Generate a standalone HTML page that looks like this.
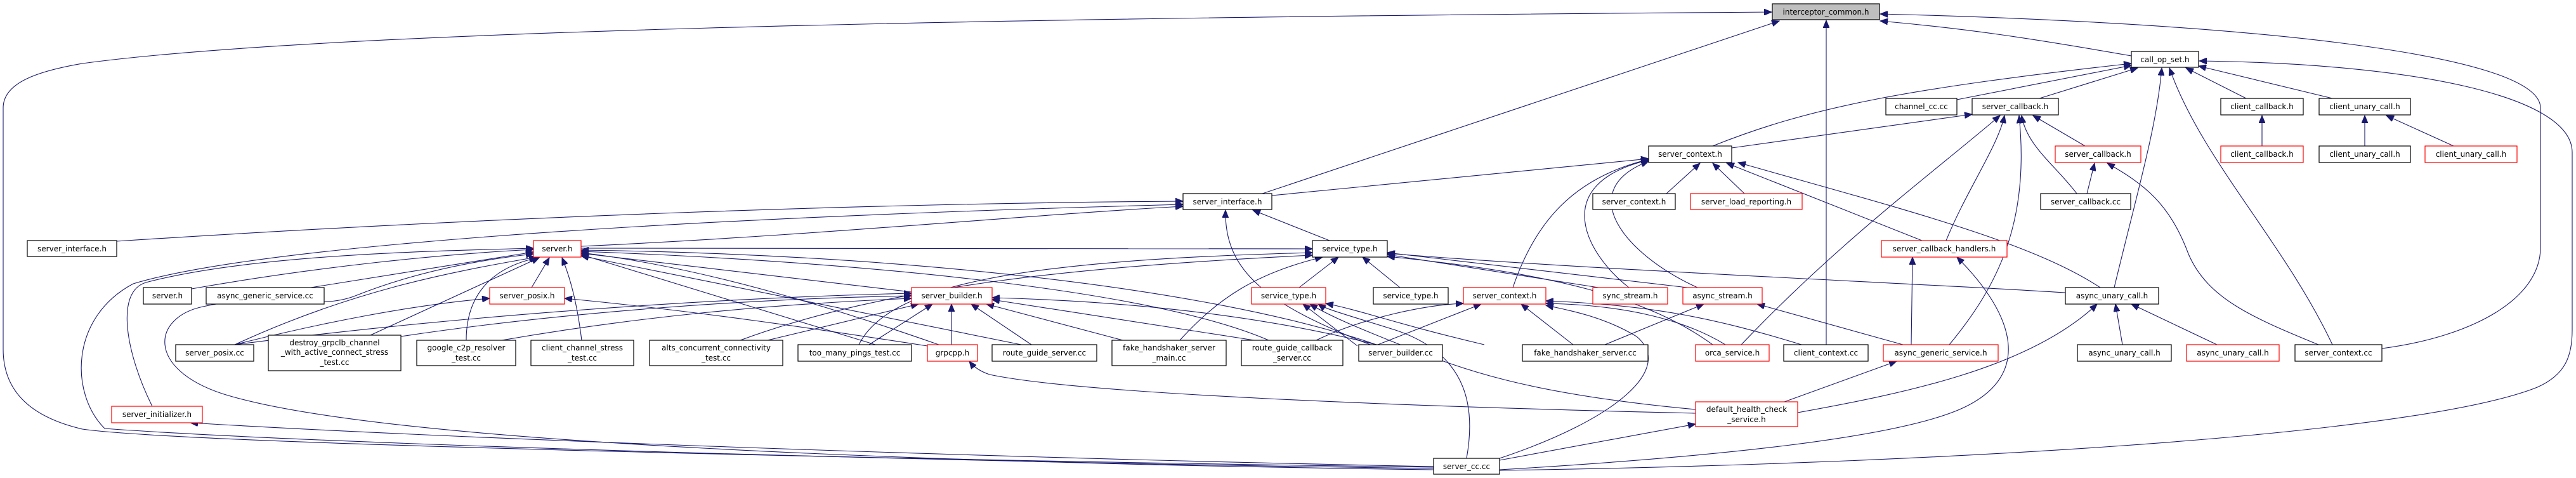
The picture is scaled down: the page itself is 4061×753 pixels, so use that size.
<!DOCTYPE html>
<html><head><meta charset="utf-8"><style>
html,body{margin:0;padding:0;background:#fff;width:4061px;height:753px;overflow:hidden}
svg{display:block}
text{font-family:"DejaVu Sans","Liberation Sans",sans-serif;font-size:12px;fill:#000;text-anchor:middle}
.n rect{fill:#fff;stroke:#000;stroke-width:1.2}
.r rect{fill:#fff;stroke:#f00;stroke-width:1.2}
path{fill:none;stroke:#191970;stroke-width:1.1}
</style></head><body>
<svg width="4061" height="753" viewBox="0 0 4061 753" xmlns="http://www.w3.org/2000/svg">
<defs><marker id="a" markerUnits="userSpaceOnUse" markerWidth="13" markerHeight="10" refX="12" refY="5" orient="auto"><path d="M0,0 L12,5 L0,10 Z" style="fill:#191970;stroke:#191970;stroke-width:1"/></marker></defs>
<g marker-end="url(#a)">
<path d="M2260,736 C1500,726 300,700 130,676 C40,655 5,610 5,550 L5,170 C5,130 60,112 130,100 C500,50 1500,28 2793,19"/>
<path d="M1990,305 L2805,33"/>
<path d="M2879,543 L2879,32"/>
<path d="M3360,88 C3200,60 3100,45 2964,33"/>
<path d="M3755,549 C3900,530 4005,470 4005,390 L4005,170 C4005,80 3500,35 2964,22"/>
<path d="M2700,230 C2850,170 3000,140 3360,100"/>
<path d="M3085,157 L3360,103"/>
<path d="M3215,155 L3370,107"/>
<path d="M3333,453 C3370,300 3400,200 3408,107"/>
<path d="M3677,543 C3600,380 3470,250 3420,107"/>
<path d="M3541,155 L3446,107"/>
<path d="M3677,155 L3466,104"/>
<path d="M2364,741 C3000,732 3800,690 4000,610 C4045,590 4055,560 4055,520 L4055,240 C4055,150 3800,100 3467,96"/>
<path d="M2730,233 L3109,180"/>
<path d="M3287,230 L3205,182"/>
<path d="M3274,305 C3240,260 3195,230 3187,182"/>
<path d="M3068,379 C3100,300 3150,230 3160,182"/>
<path d="M3073,543 C3150,450 3200,350 3183,182"/>
<path d="M2745,543 C2900,380 3050,270 3153,182"/>
<path d="M3566,230 L3566,182"/>
<path d="M3728,230 L3728,182"/>
<path d="M3868,230 L3762,182"/>
<path d="M3290,305 L3302,257"/>
<path d="M3655,543 C3550,500 3480,470 3450,400 C3420,320 3380,290 3322,257"/>
<path d="M2005,308 L2599,250"/>
<path d="M2627,305 L2680,257"/>
<path d="M2750,305 L2700,257"/>
<path d="M3030,379 L2722,257"/>
<path d="M3311,453 C3200,380 3000,330 2740,256"/>
<path d="M2676,453 C2560,400 2480,300 2599,254"/>
<path d="M2568,453 C2500,400 2440,290 2599,252"/>
<path d="M2385,453 C2420,350 2480,280 2599,251"/>
<path d="M184,380 C800,340 1400,320 1865,317"/>
<path d="M2260,738 C1500,728 500,700 165,675 C110,620 110,500 210,447 C400,390 1000,345 1865,322"/>
<path d="M916,388 C1300,370 1600,340 1865,325"/>
<path d="M2096,379 L1975,331"/>
<path d="M2160,543 C2000,480 1930,430 1932,331"/>
<path d="M302,455 C500,420 700,400 841,393"/>
<path d="M490,453 L841,397"/>
<path d="M838,453 L866,406"/>
<path d="M370,543 C550,460 700,430 846,405"/>
<path d="M584,528 L850,406"/>
<path d="M735,536 C735,460 780,420 848,406"/>
<path d="M917,536 C910,480 900,440 886,406"/>
<path d="M240,640 C200,560 180,460 230,445 C400,400 700,395 841,391"/>
<path d="M1480,543 C1300,480 1100,420 916,398"/>
<path d="M1380,543 L916,401"/>
<path d="M1610,543 L916,403"/>
<path d="M1437,460 L916,399"/>
<path d="M2000,536 C1800,450 1300,410 916,396"/>
<path d="M2170,543 C1900,450 1400,400 916,394"/>
<path d="M2260,740 C1500,730 600,700 350,620 C230,580 240,500 320,483 C420,460 500,490 560,466 C650,430 750,410 841,400"/>
<path d="M916,391 L2069,392"/>
<path d="M1500,543 L1500,479"/>
<path d="M1626,543 L1531,479"/>
<path d="M1370,543 L1470,479"/>
<path d="M1210,536 L1448,479"/>
<path d="M1770,536 L1555,479"/>
<path d="M1977,536 L1564,472"/>
<path d="M2170,543 C2000,500 1800,475 1564,469"/>
<path d="M791,536 C1000,500 1200,480 1437,470"/>
<path d="M632,530 C900,490 1200,470 1437,466"/>
<path d="M370,543 C700,500 1100,470 1437,462"/>
<path d="M2048,453 L2110,405"/>
<path d="M2207,453 L2148,405"/>
<path d="M2520,453 L2187,401"/>
<path d="M2660,453 L2187,398"/>
<path d="M3256,461 C3000,445 2500,425 2187,399"/>
<path d="M2700,543 C2600,470 2450,430 2187,404"/>
<path d="M1354,543 C1400,450 1600,410 2069,398"/>
<path d="M1167,536 C1400,450 1700,420 2069,402"/>
<path d="M1860,536 C1920,470 1980,430 2085,405"/>
<path d="M2172,543 L2335,479"/>
<path d="M2480,543 L2398,479"/>
<path d="M2840,543 C2700,500 2600,480 2437,474"/>
<path d="M2720,543 C2650,500 2550,480 2437,478"/>
<path d="M2075,536 C2150,500 2250,480 2307,478"/>
<path d="M2530,543 L2686,479"/>
<path d="M3000,543 L2770,479"/>
<path d="M2140,545 L2054,479"/>
<path d="M2340,543 C2200,510 2150,490 2090,478"/>
<path d="M3013,543 L3015,405"/>
<path d="M2364,740 C2700,720 3000,690 3100,640 C3200,590 3180,500 3085,405"/>
<path d="M2813,633 L2990,569"/>
<path d="M3346,543 L3335,479"/>
<path d="M3495,543 L3360,479"/>
<path d="M2834,650 C3000,620 3200,580 3306,479"/>
<path d="M2673,651 C2200,640 1700,620 1560,590 C1545,585 1535,578 1528,569"/>
<path d="M2364,725 L2673,668"/>
<path d="M2673,645 C2400,620 2300,580 2200,540 C2150,520 2100,500 2065,479"/>
<path d="M2260,735 C1500,720 700,690 300,666"/>
<path d="M370,543 C500,510 650,480 772,470"/>
<path d="M1462,545 C1300,520 1100,490 890,470"/>
<path d="M2312,722 C2325,650 2320,560 2200,520 C2120,495 2090,487 2078,479"/>
<path d="M2364,722 C2550,660 2640,580 2580,530 C2530,500 2480,490 2437,481"/>
</g>
<g class="n" transform="translate(2794,6)"><rect width="169" height="25" style="fill:#bfbfbf"/><text x="84.5" y="17">interceptor_common.h</text></g>
<g class="n" transform="translate(3360,81)"><rect width="106" height="25"/><text x="53" y="17">call_op_set.h</text></g>
<g class="n" transform="translate(2973,155)"><rect width="112" height="26"/><text x="56" y="17">channel_cc.cc</text></g>
<g class="n" transform="translate(3109,155)"><rect width="136" height="26"/><text x="68" y="17">server_callback.h</text></g>
<g class="n" transform="translate(3501,155)"><rect width="130" height="26"/><text x="65" y="17">client_callback.h</text></g>
<g class="n" transform="translate(3656,155)"><rect width="144" height="26"/><text x="72" y="17">client_unary_call.h</text></g>
<g class="n" transform="translate(2599,230)"><rect width="131" height="26"/><text x="65.5" y="17">server_context.h</text></g>
<g class="r" transform="translate(3240,230)"><rect width="135" height="26"/><text x="67.5" y="17">server_callback.h</text></g>
<g class="r" transform="translate(3501,230)"><rect width="130" height="26"/><text x="65" y="17">client_callback.h</text></g>
<g class="n" transform="translate(3656,230)"><rect width="144" height="26"/><text x="72" y="17">client_unary_call.h</text></g>
<g class="r" transform="translate(3823,230)"><rect width="145" height="26"/><text x="72.5" y="17">client_unary_call.h</text></g>
<g class="n" transform="translate(1865,305)"><rect width="140" height="25"/><text x="70" y="17">server_interface.h</text></g>
<g class="n" transform="translate(2511,305)"><rect width="130" height="25"/><text x="65" y="17">server_context.h</text></g>
<g class="r" transform="translate(2665,305)"><rect width="176" height="25"/><text x="88" y="17">server_load_reporting.h</text></g>
<g class="n" transform="translate(3217,305)"><rect width="142" height="25"/><text x="71" y="17">server_callback.cc</text></g>
<g class="n" transform="translate(43,379)"><rect width="141" height="25"/><text x="70.5" y="17">server_interface.h</text></g>
<g class="r" transform="translate(841,379)"><rect width="75" height="26"/><text x="37.5" y="17">server.h</text></g>
<g class="n" transform="translate(2069,379)"><rect width="118" height="26"/><text x="59" y="17">service_type.h</text></g>
<g class="r" transform="translate(2966,379)"><rect width="198" height="26"/><text x="99" y="17">server_callback_handlers.h</text></g>
<g class="n" transform="translate(226,453)"><rect width="76" height="26"/><text x="38" y="17">server.h</text></g>
<g class="n" transform="translate(325,453)"><rect width="186" height="26"/><text x="93" y="17">async_generic_service.cc</text></g>
<g class="r" transform="translate(772,453)"><rect width="118" height="26"/><text x="59" y="17">server_posix.h</text></g>
<g class="r" transform="translate(1437,453)"><rect width="127" height="26"/><text x="63.5" y="17">server_builder.h</text></g>
<g class="r" transform="translate(1973,453)"><rect width="117" height="26"/><text x="58.5" y="17">service_type.h</text></g>
<g class="n" transform="translate(2165,453)"><rect width="118" height="26"/><text x="59" y="17">service_type.h</text></g>
<g class="r" transform="translate(2307,453)"><rect width="130" height="26"/><text x="65" y="17">server_context.h</text></g>
<g class="r" transform="translate(2511,453)"><rect width="118" height="26"/><text x="59" y="17">sync_stream.h</text></g>
<g class="r" transform="translate(2653,453)"><rect width="125" height="26"/><text x="62.5" y="17">async_stream.h</text></g>
<g class="n" transform="translate(3256,453)"><rect width="147" height="26"/><text x="73.5" y="17">async_unary_call.h</text></g>
<g class="n" transform="translate(277,543)"><rect width="123" height="26"/><text x="61.5" y="17">server_posix.cc</text></g>
<g class="n" transform="translate(423,528)"><rect width="209" height="56"/><text x="104.5" y="16">destroy_grpclb_channel</text><text x="104.5" y="31">_with_active_connect_stress</text><text x="104.5" y="47">_test.cc</text></g>
<g class="n" transform="translate(657,536)"><rect width="156" height="40"/><text x="78" y="16">google_c2p_resolver</text><text x="78" y="32">_test.cc</text></g>
<g class="n" transform="translate(837,536)"><rect width="162" height="40"/><text x="81" y="16">client_channel_stress</text><text x="81" y="32">_test.cc</text></g>
<g class="n" transform="translate(1024,536)"><rect width="210" height="40"/><text x="105" y="16">alts_concurrent_connectivity</text><text x="105" y="32">_test.cc</text></g>
<g class="n" transform="translate(1258,543)"><rect width="179" height="26"/><text x="89.5" y="17">too_many_pings_test.cc</text></g>
<g class="r" transform="translate(1462,543)"><rect width="79" height="26"/><text x="39.5" y="17">grpcpp.h</text></g>
<g class="n" transform="translate(1564,543)"><rect width="165" height="26"/><text x="82.5" y="17">route_guide_server.cc</text></g>
<g class="n" transform="translate(1753,536)"><rect width="180" height="40"/><text x="90" y="16">fake_handshaker_server</text><text x="90" y="32">_main.cc</text></g>
<g class="n" transform="translate(1957,536)"><rect width="160" height="40"/><text x="80" y="16">route_guide_callback</text><text x="80" y="32">_server.cc</text></g>
<g class="n" transform="translate(2142,543)"><rect width="132" height="26"/><text x="66" y="17">server_builder.cc</text></g>
<g class="n" transform="translate(2400,543)"><rect width="198" height="26"/><text x="99" y="17">fake_handshaker_server.cc</text></g>
<g class="r" transform="translate(2673,543)"><rect width="116" height="26"/><text x="58" y="17">orca_service.h</text></g>
<g class="n" transform="translate(2812,543)"><rect width="133" height="26"/><text x="66.5" y="17">client_context.cc</text></g>
<g class="r" transform="translate(2969,543)"><rect width="181" height="26"/><text x="90.5" y="17">async_generic_service.h</text></g>
<g class="n" transform="translate(3275,543)"><rect width="148" height="26"/><text x="74" y="17">async_unary_call.h</text></g>
<g class="r" transform="translate(3447,543)"><rect width="146" height="26"/><text x="73" y="17">async_unary_call.h</text></g>
<g class="n" transform="translate(3618,543)"><rect width="137" height="26"/><text x="68.5" y="17">server_context.cc</text></g>
<g class="r" transform="translate(176,640)"><rect width="143" height="26"/><text x="71.5" y="17">server_initializer.h</text></g>
<g class="r" transform="translate(2673,633)"><rect width="161" height="39"/><text x="80.5" y="16">default_health_check</text><text x="80.5" y="32">_service.h</text></g>
<g class="n" transform="translate(2260,722)"><rect width="104" height="25"/><text x="52" y="17">server_cc.cc</text></g>
</svg>
</body></html>
